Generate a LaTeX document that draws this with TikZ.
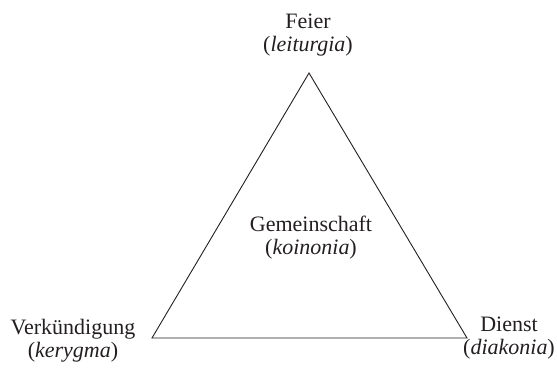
\documentclass[tikz,border=0pt]{standalone}
\usepackage{fontspec}
\setmainfont{Liberation Serif}
\definecolor{ink}{HTML}{231F20}
\begin{document}
\begin{tikzpicture}[x=1pt,y=-1pt,
  lbl/.style={align=center, text=ink, inner sep=0pt, font=\fontsize{22}{23}\selectfont},
  edge/.style={draw=ink, line width=0.9pt, line join=miter}]
\useasboundingbox (0,0) rectangle (557,372);
\coordinate (T) at (309,73);
\coordinate (L) at (152,338);
\coordinate (R) at (467,338);
\draw[edge] (L) -- (R) -- (T) -- cycle;
\node[lbl] (feier) at (308,35) {Feier\\(\textit{leiturgia})};
\node[lbl] (gem) at (311,238) {Gemeinschaft\\(\textit{koinonia})};
\node[lbl] (verk) at (73,341) {Verkündigung\\(\textit{kerygma})};
\node[lbl] (dienst) at (509,338) {Dienst\\(\textit{diakonia})};
\end{tikzpicture}
\end{document}
